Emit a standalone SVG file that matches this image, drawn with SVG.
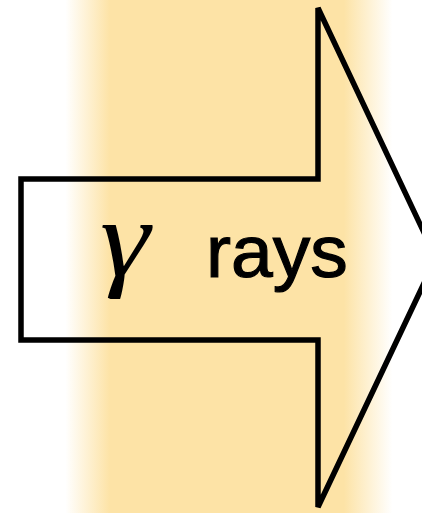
<svg xmlns="http://www.w3.org/2000/svg" width="422" height="513" viewBox="0 0 422 513">
  <defs>
    <linearGradient id="band" x1="0" y1="0" x2="422" y2="0" gradientUnits="userSpaceOnUse">
      <stop offset="0.155" stop-color="#FDE3A6" stop-opacity="0"/>
      <stop offset="0.26" stop-color="#FDE3A6"/>
      <stop offset="0.815" stop-color="#FDE3A6"/>
      <stop offset="0.93" stop-color="#FDE3A6" stop-opacity="0"/>
    </linearGradient>
    <style>
      .outline { fill: none; stroke: #000; stroke-width: 5.5; stroke-linejoin: miter; }
      .lbl { font-family: "Liberation Sans", Arial, sans-serif; font-size: 75px; fill: #000; stroke: #000; stroke-width: 1.2; }
      .sym { font-family: "Liberation Serif", "Times New Roman", serif; font-style: italic; font-size: 110px; fill: #000; }
    </style>
  </defs>
  <rect x="0" y="0" width="422" height="513" fill="#fff"/>
  <rect x="0" y="0" width="422" height="513" fill="url(#band)"/>
  <g id="arrow">
    <path class="outline" d="M21 179 L318 179 L318 8 L436 258 L318 507 L318 340 L21 340 Z"/>
    <text class="sym" transform="translate(100 276) scale(1.15 1)">γ</text>
    <text class="lbl" x="206" y="277">rays</text>
  </g>
</svg>
